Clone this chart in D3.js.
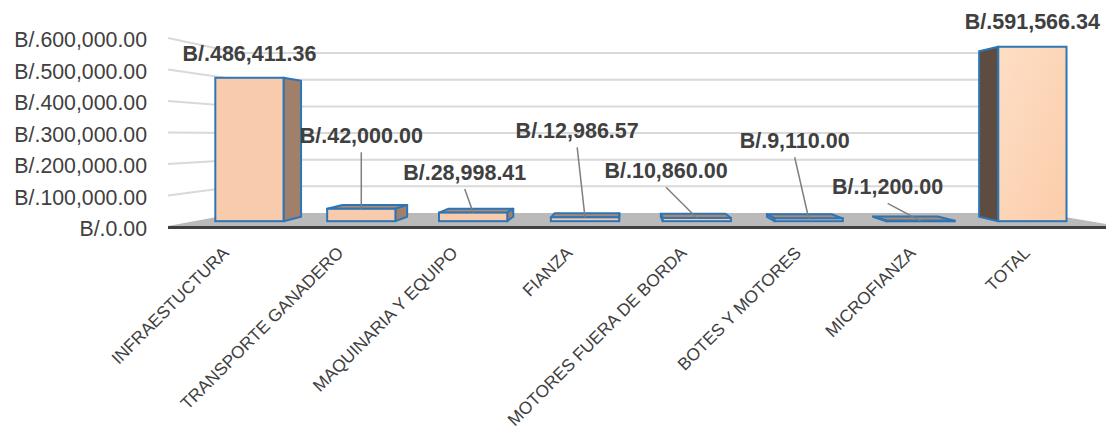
<!DOCTYPE html>
<html><head><meta charset="utf-8">
<script src="https://cdn.jsdelivr.net/npm/d3@7"></script>
<style>html,body{margin:0;padding:0;background:#fff;} svg{display:block;}</style>
</head><body>
<svg id="chart" width="1106" height="429"></svg>
<script>
// ---- data ----
const categories = ["INFRAESTUCTURA","TRANSPORTE GANADERO","MAQUINARIA Y EQUIPO","FIANZA","MOTORES FUERA DE BORDA","BOTES Y MOTORES","MICROFIANZA","TOTAL"];
const values = [486411.36, 42000.00, 28998.41, 12986.57, 10860.00, 9110.00, 1200.00, 591566.34];
const tickValues = [0, 100000, 200000, 300000, 400000, 500000, 600000];
const currencyPrefix = "B/.";

// ---- layout (not data) ----
const labelOffsets = [[0,-17],[0,-65.5],[-8.4,-32.6],[-7.8,-79],[-30.8,-39.7],[-14,-70.2],[-32.9,-26.5],[0,-17.5]];
const withLeader = [false,true,true,true,true,true,true,false];

const fmt = v => currencyPrefix + d3.format(",.2f")(v);
const svg = d3.select("#chart");
svg.append("rect").attr("width",1106).attr("height",429).attr("fill","#fff");

const VX = 625, VY = 136;
const S_WALL = 0.846, S_FRONT = 0.936, S_BACK = 0.888;
const wallLeft = 168, wallRight = 1117;

const x = d3.scaleBand().domain(categories).range([164, 1120]).paddingInner(0.39).paddingOuter(0.195);
const y = d3.scaleLinear().domain([0, 600000]).range([227, 38]);
const labelX = d3.scaleLinear().domain([0, categories.length - 1]).range([230, 1031]);

function P(xf, yf, s) { return [VX + s * (xf - VX), VY + s * (yf - VY)]; }
const poly = pts => pts.map(p => p.join(",")).join(" ");

const defs = svg.append("defs");
const g1 = defs.append("linearGradient").attr("id","gTot").attr("x1","0").attr("y1","0").attr("x2","1").attr("y2","1");
g1.append("stop").attr("offset","0").attr("stop-color","#FEDEC5");
g1.append("stop").attr("offset","1").attr("stop-color","#FBCDAA");

// gridlines: left wall + back wall
const grid = svg.append("g");
tickValues.filter(v => v > 0).forEach(v => {
  const a = [wallLeft, y(v)];
  const b = P(wallLeft, y(v), S_WALL);
  const c = P(wallRight, y(v), S_WALL);
  grid.append("polyline").attr("points", poly([a, b, c]))
    .attr("fill","none").attr("stroke","#D9D9D9").attr("stroke-width",2);
});

// floor
const y0 = y(0);
svg.append("polygon")
  .attr("points", poly([[wallLeft, y0 - 1], P(wallLeft, y0, S_WALL), P(wallRight, y0, S_WALL), [wallRight, y0 - 1]]))
  .attr("fill", "#BABABA");
svg.append("line").attr("x1", wallLeft).attr("x2", wallRight).attr("y1", y0 + 0.5).attr("y2", y0 + 0.5)
  .attr("stroke", "#404040").attr("stroke-width", 3);

// y tick labels
svg.append("g").selectAll("text").data(tickValues).join("text")
  .attr("x", 147).attr("y", d => y(d) + 9)
  .attr("text-anchor", "end")
  .attr("font-family", "Liberation Sans, Arial, sans-serif")
  .attr("font-size", 21.3).attr("fill", "#404040")
  .text(fmt);

// bars
const bars = svg.append("g");
categories.forEach((c, i) => {
  const v = values[i];
  const xl = x(c), xr = x(c) + x.bandwidth();
  const yt = y(v), yb = y(0);
  const isTotal = i === categories.length - 1;
  const g = bars.append("g");
  const stroke = "#2E75B6", sw = 2;
  if (yt > VY) {
    g.append("polygon").attr("points", poly([P(xl,yt,S_FRONT),P(xr,yt,S_FRONT),P(xr,yt,S_BACK),P(xl,yt,S_BACK)]))
      .attr("fill", "#AE8870").attr("stroke", stroke).attr("stroke-width", sw).attr("stroke-linejoin","round");
  }
  const sideFill = isTotal ? "#5E4C40" : "#A0806B";
  if (xr < VX) {
    g.append("polygon").attr("points", poly([P(xr,yb,S_FRONT),P(xr,yt,S_FRONT),P(xr,yt,S_BACK),P(xr,yb,S_BACK)]))
      .attr("fill", sideFill).attr("stroke", stroke).attr("stroke-width", sw).attr("stroke-linejoin","round");
  } else if (xl > VX) {
    g.append("polygon").attr("points", poly([P(xl,yb,S_FRONT),P(xl,yt,S_FRONT),P(xl,yt,S_BACK),P(xl,yb,S_BACK)]))
      .attr("fill", sideFill).attr("stroke", stroke).attr("stroke-width", sw).attr("stroke-linejoin","round");
  }
  const f1 = P(xl, yt, S_FRONT), f2 = P(xr, yb, S_FRONT);
  g.append("rect").attr("x", f1[0]).attr("y", f1[1]).attr("width", f2[0]-f1[0]).attr("height", Math.max(0.5, f2[1]-f1[1]))
    .attr("fill", isTotal ? "url(#gTot)" : "#F8CBAD").attr("stroke", stroke).attr("stroke-width", sw);
});

// data labels + leaders
const lab = svg.append("g");
categories.forEach((c, i) => {
  const v = values[i];
  const top = P(x(c) + x.bandwidth()/2, y(v), S_FRONT);
  const lx = top[0] + labelOffsets[i][0], ly = top[1] + labelOffsets[i][1];
  if (withLeader[i]) {
    lab.append("line").attr("x1", lx).attr("y1", ly + 9).attr("x2", top[0]).attr("y2", top[1])
      .attr("stroke", "#7F7F7F").attr("stroke-width", 1.5);
  }
  lab.append("text").attr("x", lx).attr("y", ly).attr("text-anchor","middle")
    .attr("font-family","Liberation Sans, Arial, sans-serif").attr("font-weight","bold")
    .attr("font-size", 21.5).attr("fill","#404040").text(fmt(v));
});

// category labels
svg.append("g").selectAll("text").data(categories).join("text")
  .attr("transform", (d, i) => `translate(${labelX(i)},254) rotate(-45)`)
  .attr("text-anchor","end")
  .attr("font-family","Liberation Sans, Arial, sans-serif")
  .attr("font-size", 17.3).attr("fill","#404040")
  .text(d => d);
</script>
</body></html>
